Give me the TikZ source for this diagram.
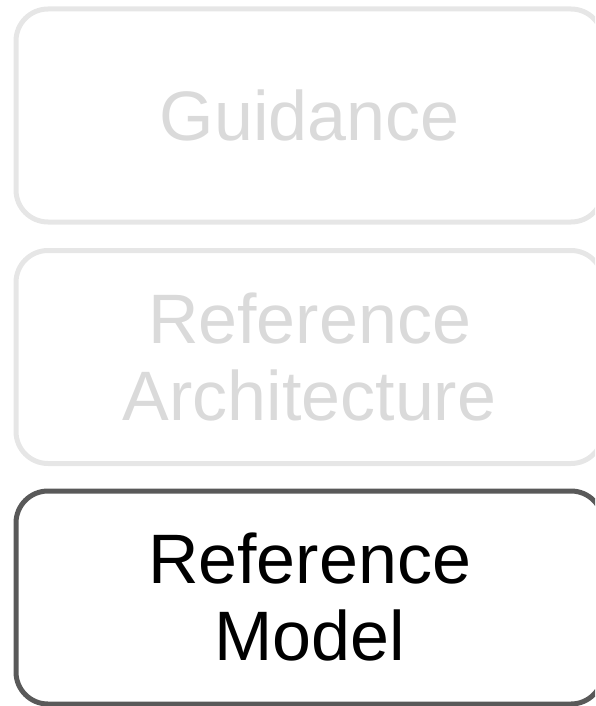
\documentclass[tikz,border=0pt]{standalone}
\usepackage{fontspec}
\setmainfont{Liberation Sans}
\definecolor{fadedline}{HTML}{E6E6E6}
\definecolor{fadedtext}{HTML}{DADADA}
\definecolor{activeline}{HTML}{595959}
\begin{document}
\begin{tikzpicture}
[x=1pt,y=-1pt,
  boxdecorate/.style={shape=rectangle,rounded corners=32pt,line width=5pt,
    minimum width=587pt,minimum height=213pt,inner sep=0pt,
    align=center,font=\fontsize{70}{77}\selectfont},%
  fadeddecorate/.style={boxdecorate,draw=fadedline,text=fadedtext},%
  activedecorate/.style={boxdecorate,draw=activeline,text=black}]
\useasboundingbox (0,0) rectangle (595,706);
\clip (0,0) rectangle (595,706);
%% boxes
\foreach \nodename/\y/\decorate/\label in {
  guidance/115.5/fadeddecorate/{Guidance},
  refarch/357/fadeddecorate/{Reference\\Architecture},
  refmodel/597.5/activedecorate/{Reference\\Model}}
{
  \node (\nodename) at (309.5,\y) [\decorate] {\label};
}
\end{tikzpicture}
\end{document}
